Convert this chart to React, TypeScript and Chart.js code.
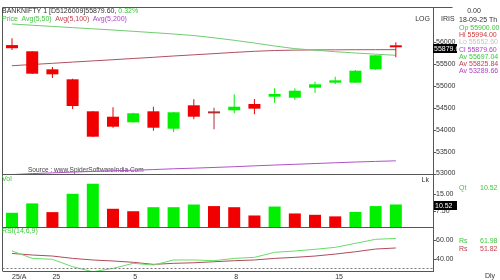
import React, { useEffect, useRef } from 'react';
import { Chart, registerables } from 'chart.js';

Chart.register(...registerables);

// ---------- text ----------
const SYMBOL = 'BANKNIFTY 1 [D5126009]';
const CHANGE_PCT = '0.32%';
const LAST_DATE = '18-09-25 Th';
const SOURCE = 'Source : www.SpiderSoftwareIndia.Com';
const LEGEND = ['Price', 'Avg(5,50)', 'Avg(5,100)', 'Avg(5,200)'];

// ---------- x axis ----------
const X_TICK_INDEX = [0, 2, 6, 11, 16];
const X_TICK_TEXT = ['25/A', '25', '5', '8', '15'];

// ---------- price (OHLC) ----------
const OPEN = [55930, 55788, 55377, 55149, 54419, 54296, 54168, 54419, 54022, 54556, 54378, 54442, 54586, 54752, 54729, 54958, 55072, 55072, 55377, 55900];
const HIGH = [56085, 55795, 55430, 55160, 54425, 54510, 54385, 54524, 54405, 54693, 54501, 54807, 54700, 54944, 54944, 55094, 55208, 55360, 55705, 55994];
const LOW = [55818, 55270, 55179, 54472, 53833, 54045, 54160, 53977, 53947, 54237, 54009, 54374, 54351, 54615, 54677, 54843, 55042, 55065, 55370, 55652.6];
const CLOSE = [55858, 55277, 55263, 54540, 53840, 54068, 54374, 54045, 54397, 54296, 54372, 54524, 54479, 54814, 54889, 55035, 55126, 55345, 55697, 55879.6];

// ---------- moving averages ----------
const MA50 = [56411, 56383, 56356, 56328, 56301, 56274, 56244, 56214, 56182, 56148, 56096, 56039, 55977, 55909, 55849, 55813, 55779, 55749, 55722, 55697.04];
const MA100 = [55459, 55487, 55514, 55542, 55569, 55596, 55624, 55651, 55681, 55708, 55735, 55763, 55788, 55806, 55815, 55820, 55822, 55824, 55825, 55825.84];
const MA200 = [52975, 52998, 53015, 53032, 53048, 53062, 53075, 53090, 53108, 53122, 53138, 53155, 53175, 53193, 53210, 53228, 53245, 53262, 53276, 53289.66];

// ---------- volume (lakh) ----------
const VOLUME = [6.8, 11.0, 7.1, 15.3, 19.8, 8.6, 7.5, 9.3, 9.3, 10.5, 9.8, 9.3, 5.6, 9.6, 6.5, 5.9, 5.2, 7.2, 9.8, 10.52];
const VOLUME_UP = [true, true, false, true, true, false, false, true, true, true, false, false, false, true, false, false, false, true, true, true];

// ---------- RSI ----------
const RSI = [48.6, 40.7, 39.7, 31.8, 26.4, 30.0, 35.4, 33.6, 39.0, 39.0, 38.2, 40.7, 41.8, 47.2, 48.6, 50.4, 52.5, 56.8, 61.1, 61.98];
const RSI_SIGNAL = [46.0, 44.3, 43.2, 40.7, 39.0, 37.9, 36.5, 34.3, 35.4, 36.0, 37.1, 38.2, 39.0, 40.7, 41.8, 43.2, 45.3, 47.8, 50.7, 51.82];
const RSI_LEVEL = 30;

// ---------- axis ticks ----------
const PRICE_TICKS = [53000, 53500, 54000, 54500, 55000, 55500, 56000];
const VOL_TICKS = [7.5, 15];
const RSI_TICKS = [40, 60];

// ---------- styles ----------
const FONT = '"Liberation Sans", Arial, sans-serif';
const TXT = '#333333';
const FRAME = '#555555';
const RED = '#f00000';
const GREEN = '#00f000';
const DOJI = '#b03030';
const G_TXT = '#3cc83c';
const R_TXT = '#d03838';
const BR_TXT = '#c04050';
const P_TXT = '#b040c8';
const MA50_C = '#70cc70';
const MA100_C = '#b05060';
const MA200_C = '#b050c8';

function txt(ctx: any, s: string, x: number, y: number, color: string, align: any = 'left', size = 7, weight = '') {
  ctx.fillStyle = color;
  ctx.font = `${weight ? weight + ' ' : ''}${size}px ${FONT}`;
  ctx.textAlign = align;
  ctx.textBaseline = 'middle';
  ctx.fillText(s, x, y);
}

function valueBox(ctx: any, x: number, y: number, w: number, h: number, s: string) {
  ctx.save();
  const top = Math.round(y - h / 2);
  ctx.fillStyle = '#000';
  ctx.fillRect(x, top, w, h);
  ctx.beginPath();
  ctx.rect(x, top, w, h);
  ctx.clip();
  txt(ctx, s, x + 1, top + h / 2 + 0.5, '#ffffff', 'left', 7);
  ctx.restore();
}

export default function App() {
  const ref = useRef<HTMLCanvasElement>(null);

  useEffect(() => {
    const canvas = ref.current as HTMLCanvasElement;
    const n = CLOSE.length;
    const candleColor = OPEN.map((o, i) =>
      Math.abs(CLOSE[i] - o) < 15 ? DOJI : CLOSE[i] < o ? RED : GREEN
    );
    const volColor = VOLUME_UP.map((u) => (u ? GREEN : RED));
    const pts = (arr: number[]) => arr.map((v, i) => ({ x: i, y: v }));

    const yAxis = (min: number, max: number, weight: number) => ({
      type: 'linear',
      position: 'right',
      stack: 'panels',
      stackWeight: weight,
      min,
      max,
      bounds: 'data',
      afterFit: (s: any) => {
        s.width = 67;
      },
      grid: { display: false },
      border: { display: true, color: FRAME, width: 1 },
      ticks: { display: false },
    });

    const axisLabels = (ctx: any, scale: any, ticks: number[], fmt: (v: number) => string) => {
      const x0 = Math.round(scale.left);
      ticks.forEach((v) => {
        const y = scale.getPixelForValue(v);
        ctx.strokeStyle = FRAME;
        ctx.lineWidth = 1;
        ctx.beginPath();
        ctx.moveTo(x0, Math.round(y) + 0.5);
        ctx.lineTo(x0 + 3, Math.round(y) + 0.5);
        ctx.stroke();
        txt(ctx, fmt(v), x0 + 3, y, TXT, 'left', 7);
      });
    };

    const overlay = {
      id: 'overlay',
      beforeDatasetsDraw(chart: any) {
        const { ctx, chartArea } = chart;
        const price = chart.scales.price;
        ctx.save();
        txt(ctx, SOURCE, chartArea.left + 25, price.bottom - 5, '#444444', 'left', 6.5);
        ctx.restore();
      },
      afterDraw(chart: any) {
        const { ctx, chartArea } = chart;
        const { price, vol, rsi } = chart.scales;
        const L = Math.round(chartArea.left) - 0.5;
        const R = Math.round(chartArea.right) + 0.5;
        const T = Math.round(chartArea.top) - 0.5;
        const B = Math.round(chartArea.bottom) + 0.5;
        ctx.save();
        ctx.strokeStyle = FRAME;
        ctx.lineWidth = 1;
        ctx.beginPath();
        ctx.moveTo(L, T);
        ctx.lineTo(L, B);
        ctx.moveTo(L, T);
        ctx.lineTo(R + 19, T);
        ctx.moveTo(L, Math.round(vol.top) - 0.5);
        ctx.lineTo(R, Math.round(vol.top) - 0.5);
        ctx.moveTo(L, Math.round(rsi.top) - 0.5);
        ctx.lineTo(R, Math.round(rsi.top) - 0.5);
        ctx.stroke();

        // RSI reference level
        const yl = Math.round(rsi.getPixelForValue(RSI_LEVEL)) + 0.5;
        ctx.strokeStyle = '#777777';
        ctx.setLineDash([2, 2]);
        ctx.beginPath();
        ctx.moveTo(L, yl);
        ctx.lineTo(R, yl);
        ctx.stroke();
        ctx.setLineDash([]);

        // right axis labels
        axisLabels(ctx, price, PRICE_TICKS, (v) => String(v));
        axisLabels(ctx, vol, VOL_TICKS, (v) => v.toFixed(2));
        axisLabels(ctx, rsi, RSI_TICKS, (v) => v.toFixed(2));

        // header
        const head1 = `${SYMBOL}${CLOSE[n - 1].toFixed(2)}, `;
        txt(ctx, head1, 2, 11, TXT, 'left', 7);
        ctx.font = `7px ${FONT}`;
        const w1 = ctx.measureText(head1).width;
        txt(ctx, CHANGE_PCT, 2 + w1, 11, G_TXT, 'left', 7);

        const legendColors = [G_TXT, G_TXT, BR_TXT, P_TXT];
        let lx = 2;
        LEGEND.forEach((s, i) => {
          txt(ctx, s, lx, 19.5, legendColors[i], 'left', 7);
          ctx.font = `7px ${FONT}`;
          lx += ctx.measureText(s).width + 3.5;
        });

        // right info panel
        const rx = chartArea.right;
        txt(ctx, 'LOG', rx - 3, 19.5, TXT, 'right', 7);
        txt(ctx, 'IRIS', rx + 8, 19.5, TXT, 'left', 7);
        txt(ctx, '0.00', rx + 41, 11.5, TXT, 'center', 7);
        txt(ctx, LAST_DATE, rx + 26, 20.5, TXT, 'left', 7);
        const info: [string, string][] = [
          [`Op ${OPEN[n - 1].toFixed(2)}`, G_TXT],
          [`Hi ${HIGH[n - 1].toFixed(2)}`, R_TXT],
          [`Lo ${LOW[n - 1].toFixed(2)}`, '#c4c4c4'],
          [`Cl ${CLOSE[n - 1].toFixed(2)}`, P_TXT],
          [`Av ${MA50[n - 1].toFixed(2)}`, G_TXT],
          [`Av ${MA100[n - 1].toFixed(2)}`, BR_TXT],
          [`Av ${MA200[n - 1].toFixed(2)}`, P_TXT],
        ];
        info.forEach(([s, c], i) => txt(ctx, s, rx + 26, 27.7 + i * 7.3, c, 'left', 7));

        // panel labels
        txt(ctx, 'Vol', 2, vol.top + 4.5, G_TXT, 'left', 7);
        txt(ctx, 'Lk', rx - 4, vol.top + 5.5, TXT, 'right', 7);
        txt(ctx, 'Qt', rx + 26, vol.top + 13.5, G_TXT, 'left', 7);
        txt(ctx, VOLUME[n - 1].toFixed(2), rx + 47, vol.top + 13.5, G_TXT, 'left', 7);
        txt(ctx, 'RSI(14,6,9)', 2, rsi.top + 3.5, G_TXT, 'left', 7);
        const yr = rsi.getPixelForValue(RSI[n - 1]) + 2.5;
        const ys = rsi.getPixelForValue(RSI_SIGNAL[n - 1]) + 1;
        txt(ctx, 'Rs', rx + 26, yr, G_TXT, 'left', 7);
        txt(ctx, RSI[n - 1].toFixed(2), rx + 47, yr, G_TXT, 'left', 7);
        txt(ctx, 'Rs', rx + 26, ys, BR_TXT, 'left', 7);
        txt(ctx, RSI_SIGNAL[n - 1].toFixed(2), rx + 47, ys, BR_TXT, 'left', 7);
        txt(ctx, 'Dly', rx + 52, chartArea.bottom + 5.5, TXT, 'left', 7);

        // last value boxes
        valueBox(ctx, Math.round(rx), price.getPixelForValue(CLOSE[n - 1]) + 1.5, 24, 9, CLOSE[n - 1].toFixed(1));
        valueBox(ctx, Math.round(rx) + 1, vol.getPixelForValue(VOLUME[n - 1]) + 1, 23, 9, VOLUME[n - 1].toFixed(2));
        ctx.restore();
      },
    };

    const chart = new Chart(canvas, {
      type: 'bar',
      data: {
        datasets: [
          {
            type: 'bar',
            label: 'body',
            data: OPEN.map((o, i) => ({ x: i, y: [o, CLOSE[i]] })),
            backgroundColor: candleColor,
            borderWidth: 0,
            barThickness: 12,
            minBarLength: 2,
            grouped: false,
            inflateAmount: 0,
            yAxisID: 'price',
            xAxisID: 'x',
            order: 0,
          },
          {
            type: 'bar',
            label: 'wick',
            data: LOW.map((l, i) => ({ x: i, y: [l, HIGH[i]] })),
            backgroundColor: candleColor,
            borderWidth: 0,
            barThickness: 1,
            grouped: false,
            inflateAmount: 0,
            yAxisID: 'price',
            xAxisID: 'x',
            order: 1,
          },
          {
            type: 'line',
            label: 'Avg(5,50)',
            data: pts(MA50),
            borderColor: MA50_C,
            borderWidth: 1,
            pointRadius: 0,
            tension: 0,
            yAxisID: 'price',
            xAxisID: 'x',
            order: 2,
          },
          {
            type: 'line',
            label: 'Avg(5,100)',
            data: pts(MA100),
            borderColor: MA100_C,
            borderWidth: 1,
            pointRadius: 0,
            tension: 0,
            yAxisID: 'price',
            xAxisID: 'x',
            order: 2,
          },
          {
            type: 'line',
            label: 'Avg(5,200)',
            data: pts(MA200),
            borderColor: MA200_C,
            borderWidth: 1,
            pointRadius: 0,
            tension: 0,
            yAxisID: 'price',
            xAxisID: 'x',
            order: 2,
          },
          {
            type: 'bar',
            label: 'Vol',
            data: pts(VOLUME),
            backgroundColor: volColor,
            borderWidth: 0,
            barThickness: 12,
            grouped: false,
            inflateAmount: 0,
            yAxisID: 'vol',
            xAxisID: 'x',
            order: 0,
          },
          {
            type: 'line',
            label: 'RSI',
            data: pts(RSI),
            borderColor: '#66dd66',
            borderWidth: 1,
            pointRadius: 0,
            tension: 0,
            yAxisID: 'rsi',
            xAxisID: 'x',
            order: 1,
          },
          {
            type: 'line',
            label: 'Signal',
            data: pts(RSI_SIGNAL),
            borderColor: '#b04a5a',
            borderWidth: 1,
            pointRadius: 0,
            tension: 0,
            yAxisID: 'rsi',
            xAxisID: 'x',
            order: 2,
          },
        ],
      } as any,
      options: {
        responsive: false,
        devicePixelRatio: 1,
        animation: false,
        events: [],
        layout: { padding: { left: 3, top: 8, right: 0, bottom: 0 } },
        plugins: { legend: { display: false }, tooltip: { enabled: false }, title: { display: false } },
        scales: {
          x: {
            type: 'linear',
            min: -0.446,
            max: 20.84,
            bounds: 'data',
            offset: false,
            grid: { display: false, drawTicks: false, offset: false },
            border: { display: true, color: FRAME, width: 1 },
            afterBuildTicks: (s: any) => {
              s.ticks = X_TICK_INDEX.map((v) => ({ value: v }));
            },
            afterFit: (s: any) => {
              s.height = 9;
            },
            ticks: {
              autoSkip: false,
              maxRotation: 0,
              minRotation: 0,
              padding: 2,
              align: 'start',
              color: TXT,
              font: { family: FONT, size: 7 },
              callback: (v: any) => {
                const k = X_TICK_INDEX.indexOf(Number(v));
                return k >= 0 ? X_TICK_TEXT[k] : '';
              },
            },
          },
          price: yAxis(52966, 56776, 167),
          vol: yAxis(0, 23.7, 53),
          rsi: yAxis(27.2, 73.2, 43),
        },
      } as any,
      plugins: [overlay],
    });

    return () => chart.destroy();
  }, []);

  return (
    <div style={{ position: 'absolute', left: 0, top: 0, width: 500, height: 280, background: '#ffffff' }}>
      <canvas ref={ref} width={500} height={280} style={{ display: 'block', width: 500, height: 280 }} />
    </div>
  );
}
